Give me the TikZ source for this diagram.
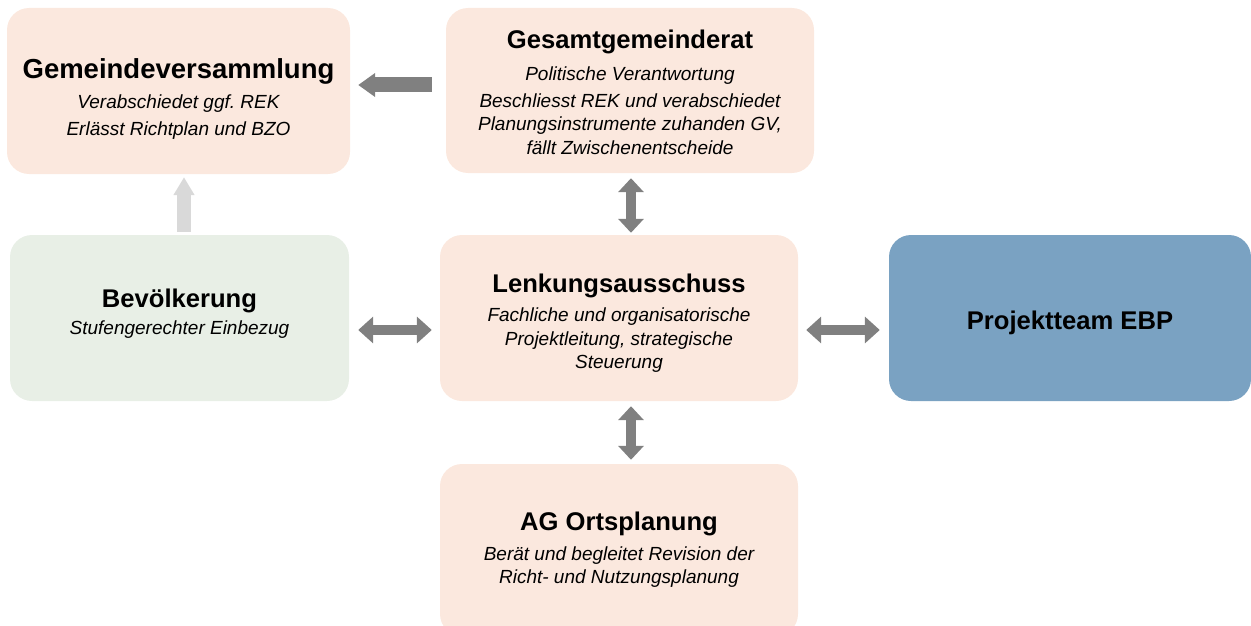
\documentclass[tikz,border=0pt]{standalone}
\usepackage{fontspec}
\setmainfont{Liberation Sans}
\usetikzlibrary{arrows.meta}
\frenchspacing

\definecolor{peach}{RGB}{251,232,222}
\definecolor{mint}{RGB}{232,239,230}
\definecolor{ebpblue}{RGB}{122,162,194}
\definecolor{pfeilgrau}{RGB}{128,128,128}
\definecolor{hellgrau}{RGB}{217,217,217}

\newcommand{\titel}[1]{{\fontsize{25.6}{30}\selectfont\bfseries\upshape #1}}

\tikzstyle{boxNode} = [rectangle, rounded corners=22pt, inner sep=0pt, align=center, text=black, font=\fontsize{19}{23.5}\selectfont\itshape]
\tikzstyle{peachNode} = [boxNode, fill=peach]
\tikzstyle{arrow} = [line width=15pt, pfeilgrau, -{Triangle[width=23pt,length=17pt]}]
\tikzstyle{dArrow} = [line width=10pt, pfeilgrau, {Triangle[width=26pt,length=15pt]}-{Triangle[width=26pt,length=15pt]}]

\begin{document}
\begin{tikzpicture}[x=1pt,y=-1pt]
    \useasboundingbox (0,0) rectangle (1251,626);

    \node (gemeinde)[peachNode, minimum width=343pt, minimum height=166pt] at (178.5,91)
        {{}\\[12.5pt]{\fontsize{27.5}{32}\selectfont\bfseries\upshape Gemeindeversammlung}\\[7pt]
         Verabschiedet ggf. REK\\[3.5pt] Erlässt Richtplan und BZO};
    \node (gesamt)[peachNode, minimum width=368pt, minimum height=165pt] at (630,90.5)
        {{}\\[-1pt]\titel{Gesamtgemeinderat}\\[8pt]
         Politische Verantwortung\\[3.5pt]
         Beschliesst REK und verabschiedet\\ Planungsinstrumente zuhanden GV,\\ fällt Zwischenentscheide};
    \node (bev)[boxNode, fill=mint, minimum width=339pt, minimum height=166pt] at (179.5,318)
        {\titel{Bevölkerung}\\[4pt] Stufengerechter Einbezug\\[-10.5pt]{}};
    \node (lenkung)[peachNode, minimum width=358pt, minimum height=166pt] at (619,318)
        {{}\\[5.5pt]\titel{Lenkungsausschuss}\\[6pt]
         Fachliche und organisatorische\\ Projektleitung, strategische\\ Steuerung};
    \node (projekt)[boxNode, fill=ebpblue, minimum width=362pt, minimum height=166pt] at (1070,318)
        {{}\\[5pt]\titel{Projektteam EBP}};
    \node (ag)[peachNode, minimum width=358pt, minimum height=172pt] at (619,550)
        {\titel{AG Ortsplanung}\\[6pt]
         Berät und begleitet Revision der\\ Richt- und Nutzungsplanung};

    \draw [arrow, shorten <=14pt, shorten >=8pt] ([yshift=5.5pt]gesamt.west) -- ([yshift=5.5pt]gesamt.west -| gemeinde.east);
    \draw [arrow, hellgrau, line width=14pt, -{Triangle[width=20pt,length=18pt]}, shorten <=3pt, shorten >=3pt]
        ([xshift=4.5pt]bev.north) -- ([xshift=4.5pt]bev.north |- gemeinde.south);
    \draw [dArrow, shorten <=9pt, shorten >=8pt] ([yshift=-12pt]bev.east) -- ([yshift=-12pt]lenkung.west);
    \draw [dArrow, shorten <=8pt, shorten >=9pt] ([yshift=-12pt]lenkung.east) -- ([yshift=-12pt]projekt.west);
    \draw [dArrow, {Triangle[width=25pt,length=14pt]}-{Triangle[width=25pt,length=14pt]}, shorten <=5pt, shorten >=2pt]
        ([xshift=1pt]gesamt.south) -- ([xshift=1pt]gesamt.south |- lenkung.north);
    \draw [dArrow, {Triangle[width=25pt,length=14pt]}-{Triangle[width=25pt,length=14pt]}, shorten <=5pt, shorten >=4pt]
        ([xshift=1pt]gesamt.south |- lenkung.south) -- ([xshift=1pt]gesamt.south |- ag.north);

\end{tikzpicture}
\end{document}
